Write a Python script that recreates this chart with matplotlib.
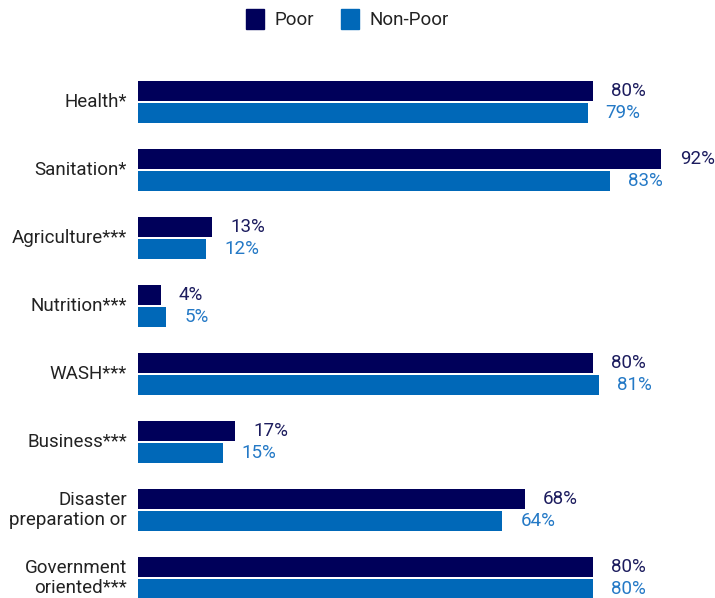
import matplotlib.pyplot as plt
from matplotlib.patches import Patch
import numpy as np

plt.rcParams['font.family'] = ['Roboto', 'DejaVu Sans']

categories = ["Health*", "Sanitation*", "Agriculture***", "Nutrition***",
              "WASH***", "Business***", "Disaster\npreparation or",
              "Government\noriented***"]
poor = [80, 92, 13, 4, 80, 17, 68, 80]
non_poor = [79, 83, 12, 5, 81, 15, 64, 80]

c_poor = "#00005a"
c_nonpoor = "#0068b8"
lbl_poor = "#1c1c5e"
lbl_nonpoor = "#2479c6"
fs = 13.5

W, H = 715, 598
fig = plt.figure(figsize=(W / 100, H / 100), dpi=100)
# axes box in pixels: left 138, right 707, top 68, bottom 612
ax = fig.add_axes([138 / W, (H - 612) / H, (707 - 138) / W, (612 - 68) / H])

y = np.arange(len(categories))
off = 0.162
bh = 0.28
ax.barh(y - off, poor, height=bh, color=c_poor)
ax.barh(y + off, non_poor, height=bh, color=c_nonpoor)

for i in range(len(categories)):
    ax.text(poor[i] + 3.2, y[i] - off, f"{poor[i]}%", va="center", ha="left",
            fontsize=fs, color=lbl_poor)
    ax.text(non_poor[i] + 3.2, y[i] + off, f"{non_poor[i]}%", va="center", ha="left",
            fontsize=fs, color=lbl_nonpoor)

ax.set_xlim(0, 100)
ax.set_ylim(len(categories) - 0.5, -0.5)
ax.set_yticks(y)
ax.set_yticklabels(categories, fontsize=fs, color="#222222", linespacing=1.2)
for t in ax.get_yticklabels():
    t.set_va("center")
ax.tick_params(axis="y", length=0, pad=8)
ax.set_xticks([])
for s in ax.spines.values():
    s.set_visible(False)

handles = [Patch(color=c_poor, label="Poor"), Patch(color=c_nonpoor, label="Non-Poor")]
fig.legend(handles=handles, loc="center", bbox_to_anchor=(0.486, 1 - 19 / H), ncol=2,
           frameon=False, fontsize=fs, handlelength=0.95, handleheight=1.25,
           handletextpad=0.6, columnspacing=1.4, labelcolor="#222222")

fig.savefig("out.png", dpi=100)
